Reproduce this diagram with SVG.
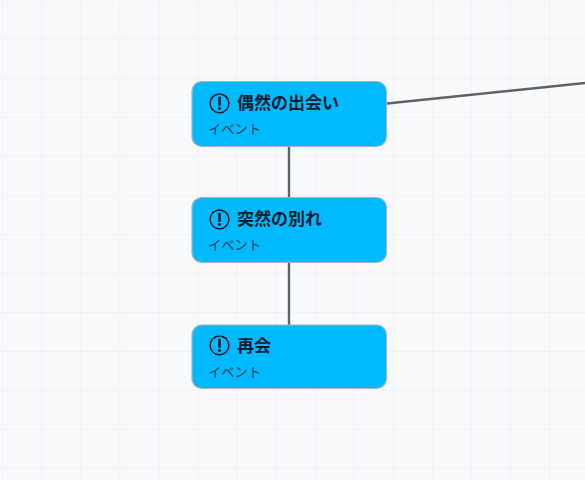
<svg xmlns="http://www.w3.org/2000/svg" width="585" height="480" viewBox="0 0 585 480">
<defs>
<pattern id="grid" x="2.2" y="-0.5" width="39.06" height="39.06" patternUnits="userSpaceOnUse">
<path d="M0.5 0V39.06M0 0.5H39.06" fill="none" stroke="#f1f3f6" stroke-width="1"/>
</pattern>
<g id="ic"><circle cx="0" cy="0" r="9.400" fill="none" stroke="#08161f" stroke-width="1.500"/><path d="M0-5.600V1.400" stroke="#08161f" stroke-width="2.500" stroke-linecap="round"/><circle cx="0" cy="5.200" r="1.400" fill="#08161f"/></g>
</defs>
<style>
.box{fill:#00b9ff;stroke:#a9b2bb;stroke-width:1.200}
.t{font:700 17px "Noto Sans CJK JP","Noto Sans",sans-serif;fill:#08202e}
.s{font:400 13.300px "Noto Sans CJK JP","Noto Sans",sans-serif;fill:#17404f}
.c{fill:none;stroke:#5f6367;stroke-width:2.400}
</style>
<rect width="585" height="480" fill="#f9fafc"/>
<rect width="585" height="480" fill="url(#grid)"/>
<g id="connectors">
<path class="c" d="M387 103.500L585 83"/>
<path class="c" d="M289 147V197"/>
<path class="c" d="M289 263V325"/>
</g>
<g id="node1"><rect class="box" x="192" y="81.500" width="194.500" height="65" rx="10"/><use href="#ic" x="219.500" y="103.300"/><text class="t" x="237" y="109">偶然の出会い</text><text class="s" x="208" y="134">イベント</text></g>
<g id="node2"><rect class="box" x="192" y="197.500" width="194.500" height="65" rx="10"/><use href="#ic" x="219.500" y="219.300"/><text class="t" x="237" y="225">突然の別れ</text><text class="s" x="208" y="250">イベント</text></g>
<g id="node3"><rect class="box" x="192" y="325" width="194.500" height="63.500" rx="10"/><use href="#ic" x="219.500" y="345.300"/><text class="t" x="237" y="351.500">再会</text><text class="s" x="208" y="377">イベント</text></g>
</svg>
